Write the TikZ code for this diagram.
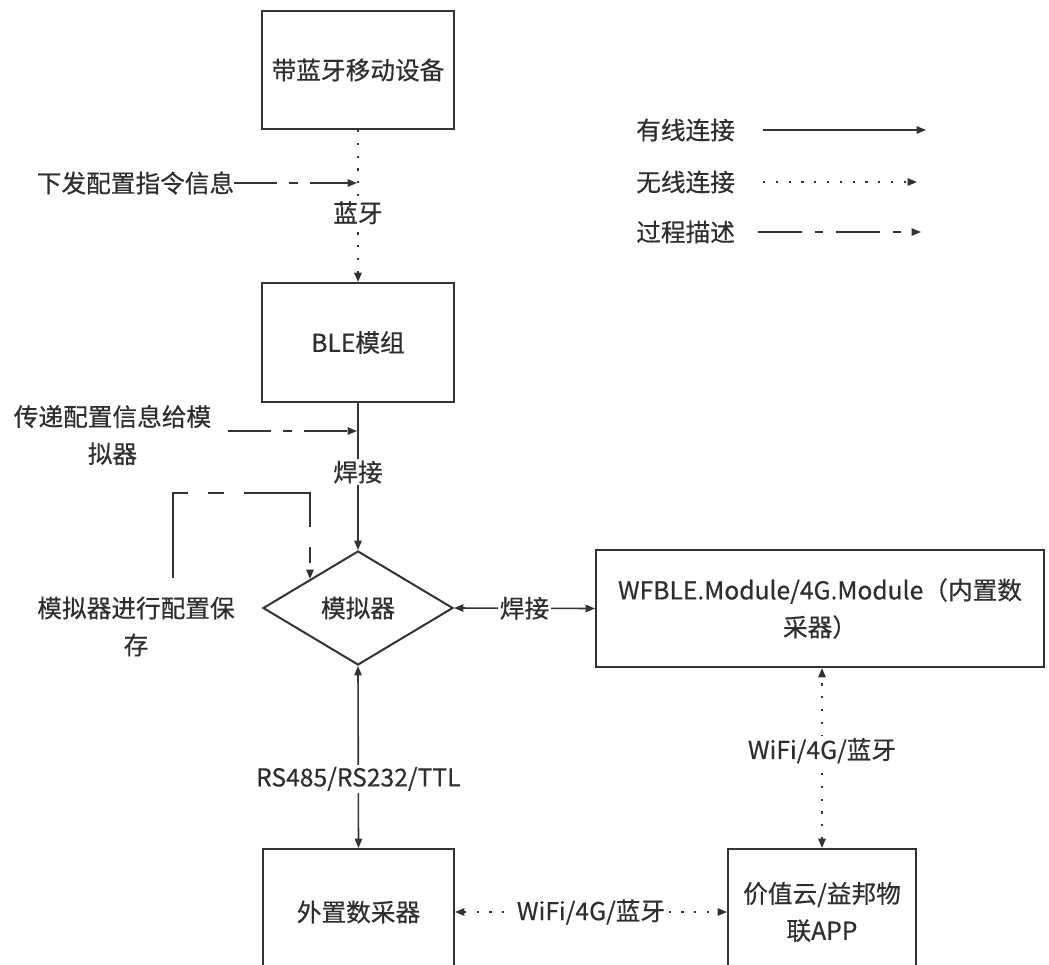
\documentclass[tikz,border=0pt]{standalone}
\usepackage{fontspec}
\setmainfont{Noto Sans CJK SC}
\newfontfamily\mfont{Noto Sans CJK SC}[FakeBold=0.45]
\usetikzlibrary{arrows.meta,shapes.geometric}
\definecolor{ln}{HTML}{333333}
\definecolor{tx}{HTML}{2E2E2E}
\begin{document}
\begin{tikzpicture}[x=0.75pt,y=-0.75pt,
  >={Triangle[length=7pt,width=5.5pt]},
  txt/.style={text=tx,font=\mfont\fontsize{18.5}{27.75}\selectfont,align=center},
  box/.style={txt,draw=ln,line width=1.5pt,fill=white,inner sep=0pt},
  lbl/.style={txt,fill=white,inner sep=1.5pt},
  note/.style={txt,inner sep=0pt},
  wired/.style={draw=ln,line width=1.2pt},
  wireless/.style={wired,line width=1.4pt,dash pattern=on 1.6pt off 8pt},
  process/.style={wired,dash pattern=on 32pt off 9pt on 7pt off 9pt},
  loopproc/.style={wired,dash pattern=on 75pt off 15pt on 12pt off 15pt}]
\clip (0,0) rectangle (1049,964);
\fill[white] (0,0) rectangle (1049,964);

% main nodes
\node[box,minimum width=144pt,minimum height=88.5pt] (dev) at (358,70) {带蓝牙移动设备};
\node[box,minimum width=144pt,minimum height=89.25pt] (ble) at (358,342.5) {BLE模组};
\node[box,diamond,minimum width=142.5pt,minimum height=85.5pt] (dm) at (358,608) {模拟器};
\node[box,minimum width=336pt,minimum height=87.75pt] (wf) at (820,608.5) {WFBLE.Module/4G.Module（内置数\\采器）};
\node[box,minimum width=143.25pt,minimum height=94.5pt] (ext) at (358.5,912) {外置数采器};
\node[box,minimum width=141pt,minimum height=94.5pt] (app) at (822,912) {价值云/益邦物\\联APP};

% connectors
\draw[wireless,->] (dev.south) -- node[lbl,pos=0.545] {蓝牙} (ble.north);
\draw[wired,->] (ble.south) -- node[lbl,pos=0.47] {焊接} (dm.north);
\draw[wired,<->] (dm.east) -- node[lbl] {焊接} (wf.west);
\draw[wired,<->] (dm.south) -- node[lbl,pos=0.62] {RS485/RS232/TTL} (ext.north);
\draw[wireless,<->] (ext.east) -- node[lbl] {WiFi/4G/蓝牙} (app.west);
\draw[wireless,<->] (app.north) -- node[lbl,pos=0.54] {WiFi/4G/蓝牙} (app.north |- wf.south);

% process annotations
\node[note] (t1) at (135.5,183) {下发配置指令信息};
\coordinate (p1) at (357,183);
\draw[process,->] (t1.east) -- (p1);

\node[note] (t2) at (112.5,435) {传递配置信息给模\\拟器};
\coordinate (p2a) at (228,431);
\coordinate (p2b) at (357,431);
\draw[process,->] (p2a) -- (p2b);

\node[note] (t3) at (136,626.5) {模拟器进行配置保\\存};
\coordinate (q0) at (173,578);
\coordinate (q1) at (173,493);
\draw[loopproc,->] (q0) -- (q1) -| (dm.north west);

% legend
\node[note,anchor=west] (l1) at (636,130) {有线连接};
\node[note,anchor=west] (l2) at (636,182) {无线连接};
\node[note,anchor=west] (l3) at (636,232) {过程描述};
\coordinate (l1a) at (763,130); \coordinate (l1b) at (926,130);
\coordinate (l2a) at (763,182); \coordinate (l2b) at (917,182);
\coordinate (l3a) at (758,232); \coordinate (l3b) at (921,232);
\draw[wired,->] (l1a) -- (l1b);
\draw[wireless,->] (l2a) -- (l2b);
\draw[wired,dash pattern=on 33pt off 10pt on 5.5pt off 10pt,->] (l3a) -- (l3b);
\end{tikzpicture}
\end{document}
